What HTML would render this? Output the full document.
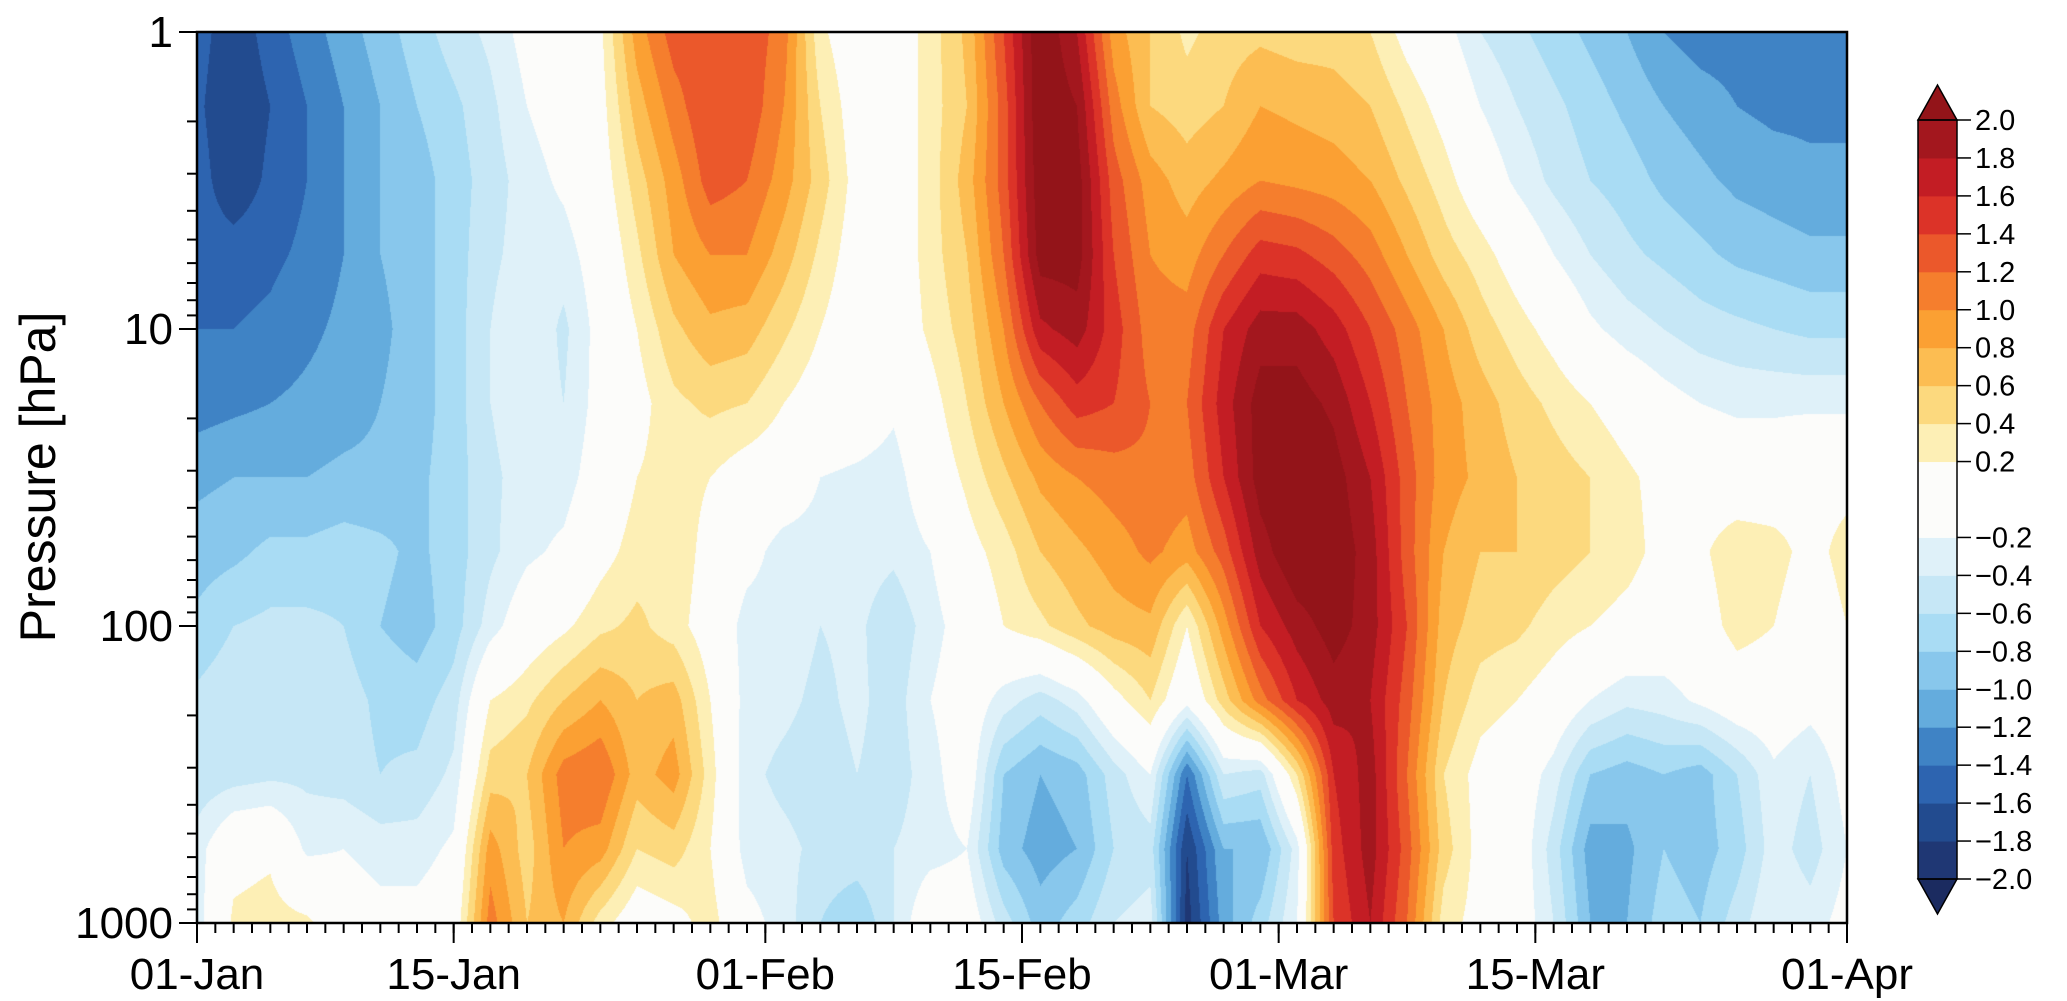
<!DOCTYPE html>
<html><head><meta charset="utf-8">
<style>
html,body{margin:0;padding:0;background:#fff;}
#wrap{position:relative;width:2067px;height:1001px;overflow:hidden;font-family:"Liberation Sans",sans-serif;}
#field{position:absolute;left:197px;top:32px;}
#axes{position:absolute;left:0;top:0;}
</style></head>
<body>
<div id="wrap">
<canvas id="field" width="1650" height="891"></canvas>
<svg id="axes" width="2067" height="1001"></svg>
</div>
<script>
// ---- data ----
const days = [0,2,4,6,8,10,12,14,16,18,20,22,24,26,28,30,32,34,36,38,40,42,44,46,48,50,52,54,56,58,60,62,64,66,68,70,72,74,76,78,80,82,84,86,88,90];
const logPressure = [0,0.25,0.5,0.75,1,1.25,1.5,1.75,2,2.25,2.5,2.75,3];
const row0 = [-1.5,-1.75,-1.5,-1.3,-1.1,-0.9,-0.7,-0.5,-0.35,-0.1,0,0.15,0.9,1.3,1.35,1.35,1.1,0.25,0,0,0.3,0.65,1.4,2.2,1.8,0.9,0.6,0.35,0.5,0.55,0.5,0.5,0.4,0.1,-0.1,-0.4,-0.55,-0.7,-0.85,-1.0,-1.2,-1.3,-1.3,-1.3,-1.3,-1.25];
const row1 = [-1.55,-1.8,-1.6,-1.4,-1.2,-1.0,-0.8,-0.65,-0.45,-0.2,-0.05,0.1,0.7,1.1,1.4,1.35,1.0,0.4,0.05,0,0.3,0.6,1.3,2.2,2.0,1.1,0.6,0.5,0.6,0.8,0.75,0.7,0.6,0.35,0.1,-0.2,-0.4,-0.55,-0.7,-0.85,-1.0,-1.1,-1.2,-1.25,-1.25,-1.25];
const row2 = [-1.5,-1.75,-1.55,-1.4,-1.2,-1.0,-0.9,-0.7,-0.5,-0.3,-0.15,0.05,0.5,0.9,1.3,1.2,0.9,0.5,0.1,0,0.3,0.7,1.3,2.15,2.1,1.3,0.9,0.7,0.85,1.0,0.95,0.9,0.8,0.55,0.3,0,-0.25,-0.45,-0.6,-0.7,-0.85,-0.95,-1.05,-1.1,-1.15,-1.15];
const row3 = [-1.5,-1.5,-1.45,-1.35,-1.2,-1.0,-0.9,-0.7,-0.45,-0.3,-0.3,-0.05,0.35,0.8,1.0,1.0,0.7,0.35,0.05,0,0.3,0.6,1.2,2.1,2.1,1.4,1.0,0.9,1.2,1.5,1.45,1.3,1.1,0.8,0.5,0.3,0.05,-0.2,-0.4,-0.55,-0.65,-0.75,-0.85,-0.9,-0.95,-0.95];
const row4 = [-1.4,-1.4,-1.35,-1.25,-1.15,-1.05,-0.9,-0.7,-0.4,-0.2,-0.45,-0.1,0.2,0.55,0.75,0.7,0.45,0.2,0,0,0.25,0.5,1.0,1.75,1.9,1.5,1.1,1.1,1.6,1.9,1.9,1.7,1.4,1.1,0.8,0.5,0.3,0.1,-0.15,-0.3,-0.4,-0.5,-0.55,-0.6,-0.65,-0.65];
const row5 = [-1.3,-1.25,-1.2,-1.15,-1.1,-1.0,-0.9,-0.7,-0.4,-0.25,-0.4,-0.1,0.1,0.35,0.45,0.4,0.2,0.05,0,-0.15,0.1,0.4,0.8,1.2,1.5,1.4,1.2,1.2,1.7,2.1,2.1,1.95,1.6,1.2,0.9,0.7,0.5,0.35,0.2,0.05,-0.1,-0.2,-0.25,-0.25,-0.25,-0.25];
const row6 = [-1.05,-1.0,-1.0,-1.0,-0.95,-0.95,-0.85,-0.7,-0.45,-0.3,-0.3,-0.05,0.2,0.3,0.2,0.05,0,-0.2,-0.25,-0.3,0,0.25,0.55,0.85,1.0,1.1,1.15,1.1,1.6,2.1,2.2,2.1,1.8,1.3,0.9,0.75,0.6,0.5,0.4,0.25,0.1,0.05,0,0,0.1,0.1];
const row7 = [-0.9,-0.85,-0.75,-0.75,-0.7,-0.75,-0.85,-0.7,-0.45,-0.25,-0.15,0.1,0.3,0.35,0.1,-0.1,-0.3,-0.3,-0.3,-0.35,-0.2,0.1,0.3,0.6,0.75,0.9,1.05,0.9,1.3,1.9,2.2,2.15,1.9,1.3,0.8,0.6,0.6,0.5,0.4,0.3,0.1,0.15,0.35,0.3,0.1,0.3];
const row8 = [-0.75,-0.6,-0.55,-0.55,-0.6,-0.8,-0.9,-0.7,-0.3,0,0.15,0.35,0.45,0.3,0.05,-0.3,-0.3,-0.4,-0.35,-0.55,-0.3,-0.05,0.2,0.35,0.55,0.7,0.75,0.2,0.9,1.6,1.9,2.1,1.9,1.4,0.7,0.5,0.45,0.3,0.2,0.1,0,0.05,0.3,0.2,0,0.2];
const row9 = [-0.55,-0.45,-0.4,-0.45,-0.5,-0.65,-0.7,-0.5,0.2,0.35,0.6,0.8,0.6,0.7,0.2,-0.3,-0.35,-0.45,-0.35,-0.5,-0.2,0,-0.3,-0.5,-0.3,0.1,0.4,-0.1,0.5,1.1,1.6,1.9,1.8,1.3,0.6,0.3,0.2,0.05,-0.2,-0.35,-0.3,-0.15,0,0,-0.1,0];
const row10 = [-0.55,-0.5,-0.45,-0.45,-0.5,-0.6,-0.55,-0.35,0.5,0.6,1.1,1.2,0.7,0.9,0.3,-0.35,-0.45,-0.5,-0.4,-0.5,-0.3,0,-0.8,-1.0,-0.9,-0.5,-0.2,-1.4,-0.4,-0.5,0.4,1.6,1.9,1.2,0.4,0.1,0,-0.3,-0.8,-0.9,-0.8,-0.9,-0.6,-0.25,-0.4,-0.1];
const row11 = [-0.3,0.1,0.15,-0.25,-0.2,-0.3,-0.3,-0.15,0.9,0.5,1.0,0.9,0.4,0.5,0.2,-0.3,-0.35,-0.45,-0.45,-0.4,-0.3,-0.2,-0.9,-1.1,-1.0,-0.6,-0.5,-1.8,-1.0,-1.0,-0.3,1.5,1.9,1.3,0.5,0.1,0,-0.5,-1.1,-1.05,-0.8,-0.9,-0.7,-0.3,-0.5,-0.2];
const row12 = [-0.3,0.25,0.3,0.25,0,-0.1,-0.1,0,1.1,0.6,0.8,0.3,0,0.1,0.3,-0.1,-0.3,-0.6,-0.8,-0.4,0.05,0,-0.5,-0.9,-0.7,-0.4,-0.3,-1.9,-1.1,-0.7,-0.2,1.4,1.8,1.2,0.3,0.1,0,-0.4,-1.0,-1.0,-0.7,-0.8,-0.5,-0.2,-0.3,-0.1];
const levels = [-2.0,-1.8,-1.6,-1.4,-1.2,-1.0,-0.8,-0.6,-0.4,-0.2,0.2,0.4,0.6,0.8,1.0,1.2,1.4,1.6,1.8,2.0];
const levelLabels = ["2.0","1.8","1.6","1.4","1.2","1.0","0.8","0.6","0.4","0.2","\u22120.2","\u22120.4","\u22120.6","\u22120.8","\u22121.0","\u22121.2","\u22121.4","\u22121.6","\u22121.8","\u22122.0"];
const yTickValues = [1,10,100,1000];
const xTickDays = [0,14,31,45,59,73,90];
const xTickLabels = ["01-Jan","15-Jan","01-Feb","15-Feb","01-Mar","15-Mar","01-Apr"];
const grid = [row0,row1,row2,row3,row4,row5,row6,row7,row8,row9,row10,row11,row12];
const colors = ["#1b2b60","#1f3774","#224b8f","#2d64b0","#3f83c5","#64acdd","#88c7ec","#a9dcf4","#c6e7f6","#dff1f9","#fcfcfa","#fdefb5","#fcd97e","#fcbd52","#fba033","#f57e2d","#eb582b","#dc3328","#c31d24","#a3171e","#931419"];

// ---- geometry ----
const PX0=197, PX1=1847, PY0=32, PY1=923;
const xScale = d => PX0 + (d-days[0])/(days[days.length-1]-days[0])*(PX1-PX0);
const yScale = p => PY0 + (Math.log10(p)-logPressure[0])/(logPressure[logPressure.length-1]-logPressure[0])*(PY1-PY0);
function hex2rgb(h){return [parseInt(h.substr(1,2),16),parseInt(h.substr(3,2),16),parseInt(h.substr(5,2),16)];}

// ---- field ----
(function(){
 const cv=document.getElementById('field'),ctx=cv.getContext('2d');
 const W=cv.width,H=cv.height,img=ctx.createImageData(W,H);
 const rgb=colors.map(hex2rgb);
 const nd=days.length,nl=logPressure.length;
 for(let py=0;py<H;py++){
  const lp=logPressure[0]+(py+0.5)/H*(logPressure[nl-1]-logPressure[0]);
  let r=0;while(r<nl-2 && logPressure[r+1]<lp) r++;
  const fy=(lp-logPressure[r])/(logPressure[r+1]-logPressure[r]);
  for(let px=0;px<W;px++){
   const d=days[0]+(px+0.5)/W*(days[nd-1]-days[0]);
   let c=0;while(c<nd-2 && days[c+1]<d) c++;
   const fx=(d-days[c])/(days[c+1]-days[c]);
   const v=(grid[r][c]*(1-fx)+grid[r][c+1]*fx)*(1-fy)+(grid[r+1][c]*(1-fx)+grid[r+1][c+1]*fx)*fy;
   let i=0;while(i<levels.length && v>=levels[i]) i++;
   const k=(py*W+px)*4,col=rgb[i];
   img.data[k]=col[0];img.data[k+1]=col[1];img.data[k+2]=col[2];img.data[k+3]=255;
  }
 }
 ctx.putImageData(img,0,0);
})();

// ---- axes ----
(function(){
 const svg=document.getElementById('axes'),NS='http://www.w3.org/2000/svg';
 function mk(tag,attrs,parent){const e=document.createElementNS(NS,tag);for(const k in attrs)e.setAttribute(k,attrs[k]);(parent||svg).appendChild(e);return e;}
 const frame=mk('rect',{x:PX0,y:PY0,width:PX1-PX0,height:PY1-PY0,fill:'none',stroke:'#000','stroke-width':2.5});
 
 
 for(let e=0;e<3;e++){for(let m=2;m<=9;m++){const y=yScale(m*Math.pow(10,e));
  const t=mk('line',{x1:PX0,x2:PX0-10,y1:y,y2:y,stroke:'#000','stroke-width':2});
  
  }}
 yTickValues.forEach(v=>{const y=yScale(v);
  const t=mk('line',{x1:PX0,x2:PX0-18,y1:y,y2:y,stroke:'#000','stroke-width':2});
  
  
  const l=mk('text',{x:PX0-24,y:y+15,'text-anchor':'end','font-size':44,fill:'#000'});l.textContent=v;
  
  });
 for(let d=days[0];d<=days[days.length-1];d++){const x=xScale(d);
  const t=mk('line',{x1:x,x2:x,y1:PY1,y2:PY1+10,stroke:'#000','stroke-width':2});
  
  }
 xTickDays.forEach((d,i)=>{const x=xScale(d);
  const t=mk('line',{x1:x,x2:x,y1:PY1,y2:PY1+20,stroke:'#000','stroke-width':2});
  
  
  const l=mk('text',{x:x,y:PY1+66,'text-anchor':'middle','font-size':44,fill:'#000'});l.textContent=xTickLabels[i];
  
  });
 const yt=mk('text',{x:0,y:0,'text-anchor':'middle','font-size':50,fill:'#000',transform:'translate(55,477) rotate(-90)'});
 yt.textContent='Pressure [hPa]';
 
 
 const CX0=1918,CX1=1957,CT=120,CB=879;
 const cbY=v=>CB-(v-levels[0])/(levels[levels.length-1]-levels[0])*(CB-CT);
 for(let i=0;i<levels.length-1;i++){
  const r=mk('rect',{x:CX0,y:cbY(levels[i+1]),width:CX1-CX0,height:cbY(levels[i])-cbY(levels[i+1])+0.5,fill:colors[i+1]});
  
  }
 const tt=mk('polygon',{points:`${CX0},${CT} ${CX1},${CT} ${(CX0+CX1)/2},${CT-35}`,fill:colors[colors.length-1],stroke:'#000','stroke-width':1.5});
 
 
 const bt=mk('polygon',{points:`${CX0},${CB} ${CX1},${CB} ${(CX0+CX1)/2},${CB+35}`,fill:colors[0],stroke:'#000','stroke-width':1.5});
 
 
 const fr=mk('rect',{x:CX0,y:CT,width:CX1-CX0,height:CB-CT,fill:'none',stroke:'#000','stroke-width':1.5});
 
 
 levels.slice().reverse().forEach((v,i)=>{const y=cbY(v);
  const t=mk('line',{x1:CX1,x2:CX1+14,y1:y,y2:y,stroke:'#000','stroke-width':1.5});
  
  
  const l=mk('text',{x:CX1+18,y:y+10,'font-size':29,fill:'#000'});l.textContent=levelLabels[i];
  
  });
})();
</script>
</body></html>
